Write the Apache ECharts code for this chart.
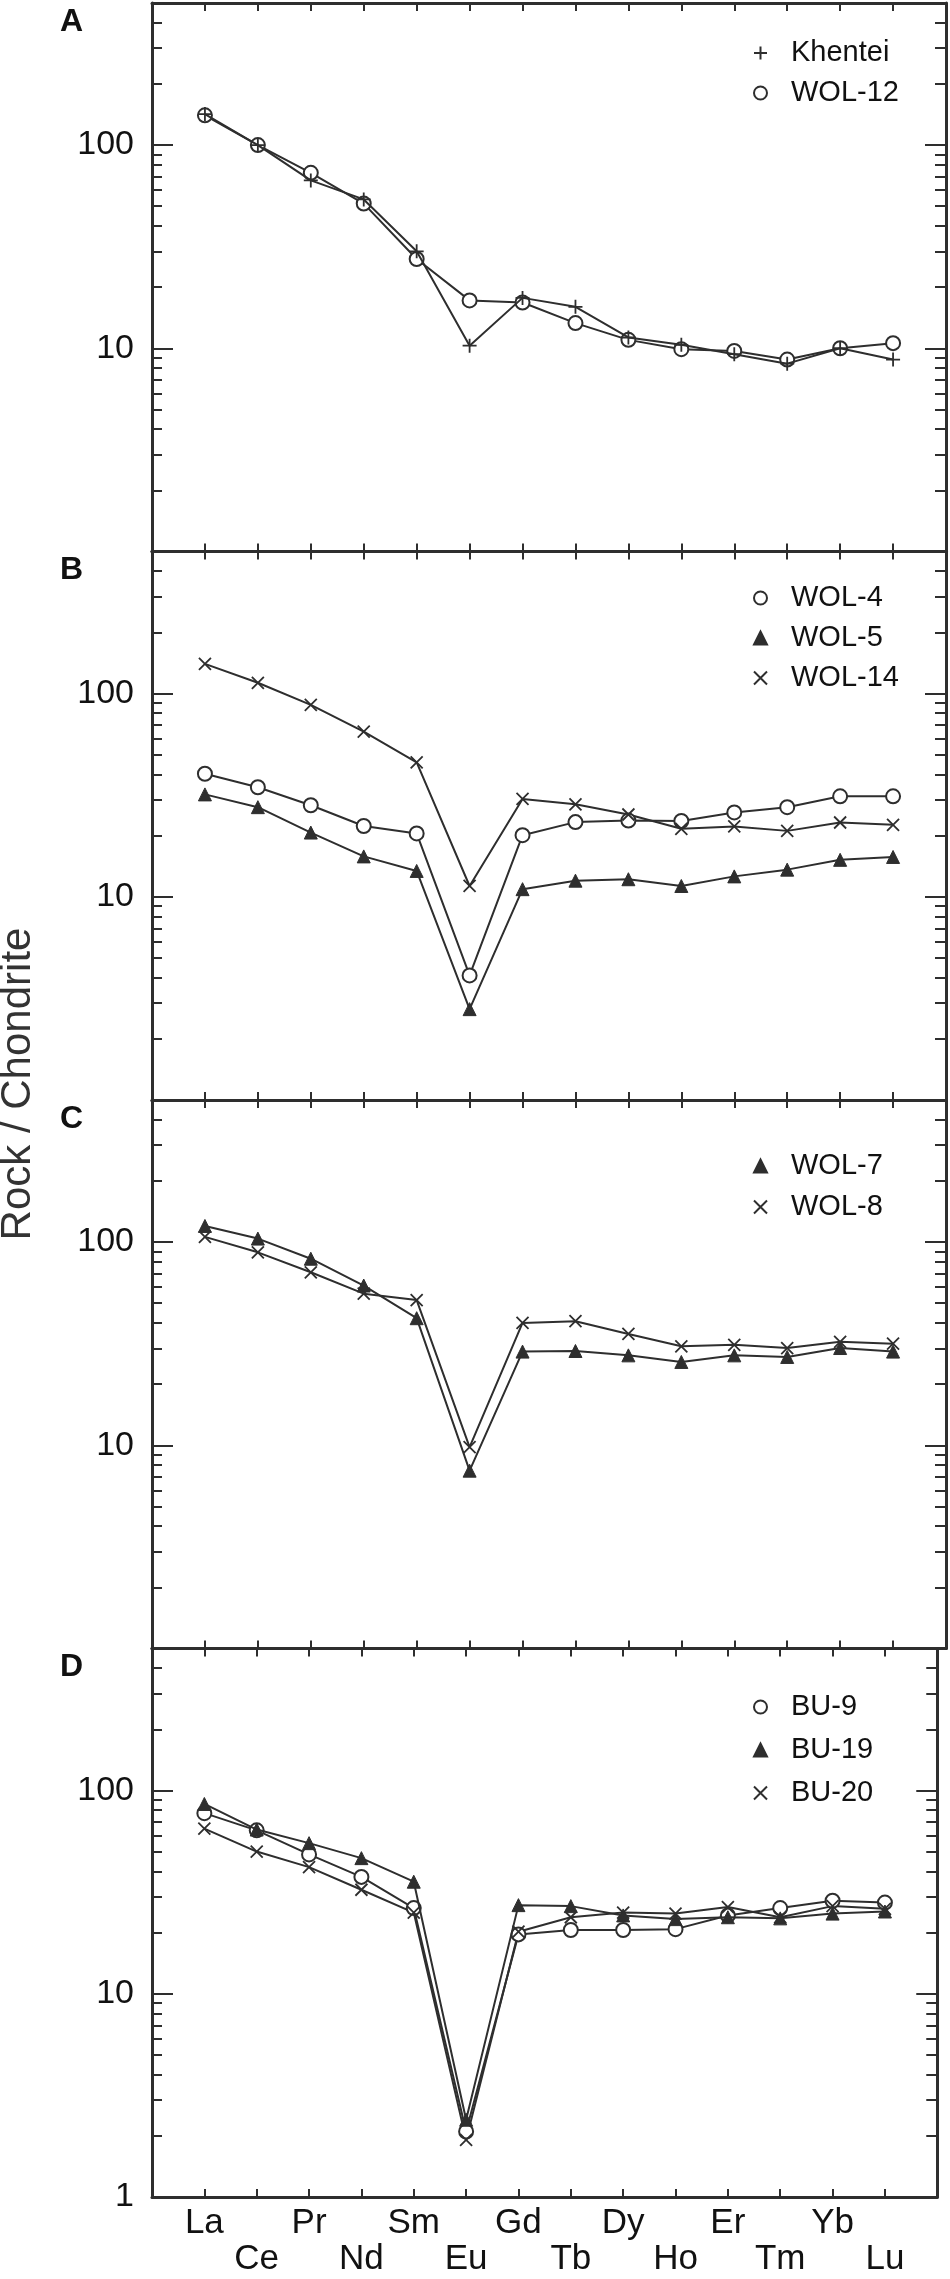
<!DOCTYPE html>
<html>
<head>
<meta charset="utf-8">
<script src="https://cdn.jsdelivr.net/npm/echarts@6/dist/echarts.min.js"></script>
<style>
html,body{margin:0;padding:0;background:#fff;}
#chart{width:950px;height:2279px;}
</style>
</head>
<body>
<div id="chart"></div>
<script>
// ---- data ----
const elements = ['La','Ce','Pr','Nd','Sm','Eu','Gd','Tb','Dy','Ho','Er','Tm','Yb','Lu'];

// Panel A
const khentei = [142, 100, 67, 54, 30, 10.3, 17.7, 16.0, 11.3, 10.4, 9.35, 8.4, 10.0, 8.8];
const wol12   = [140, 100, 73, 51.5, 27.5, 17.2, 16.8, 13.3, 11.0, 9.9, 9.7, 8.8, 10.0, 10.6];
// Panel B
const wol4  = [40.3, 34.6, 28.2, 22.3, 20.5, 4.1, 20.1, 23.3, 23.7, 23.6, 26.0, 27.6, 31.2, 31.2];
const wol5  = [31.9, 27.6, 20.7, 15.8, 13.4, 2.8, 10.9, 12.0, 12.2, 11.3, 12.6, 13.6, 15.2, 15.7];
const wol14 = [140, 113, 88, 65, 45.8, 11.3, 30.3, 28.5, 25.4, 21.6, 22.2, 21.1, 23.2, 22.6];
// Panel C
const wol7 = [120, 104, 82.8, 61.1, 42.2, 7.5, 28.9, 29.1, 27.7, 25.7, 27.7, 27.2, 30.1, 28.9];
const wol8 = [106, 89, 71, 55.7, 51.8, 9.8, 40, 40.8, 35.3, 30.7, 31.2, 30.1, 32.3, 31.6];
// Panel D
const bu9  = [77.4, 63.7, 48.5, 37.6, 26.4, 2.1, 19.6, 20.6, 20.6, 20.8, 24.3, 26.4, 28.7, 28.1];
const bu19 = [85.9, 64.3, 55.1, 46.5, 35.6, 2.4, 27.3, 27.0, 24.3, 23.3, 23.8, 23.5, 24.8, 25.4];
const bu20 = [65, 50.1, 42, 32.5, 25.1, 1.91, 20.2, 23.8, 25.1, 24.8, 26.7, 23.8, 27, 26.2];

// axis ticks / labels
const yMin = 1, yMax = 500;
const majorTicks = [1, 10, 100];
const minorTicks = [2,3,4,5,6,7,8,9,20,30,40,50,60,70,80,90,200,300,400];
const yLabelsUpper = [10, 100];
const yLabelsBottom = [1, 10, 100];

// ---- styling ----
const FONT = '"Liberation Sans", Arial, Helvetica, sans-serif';
const INK = '#2e2e2e';
const PLUS = 'path://M5,0L5,10M0,5L10,5';
const CROSS = 'path://M0,0L10,10M10,0L0,10';

const marker = {
  plus:   {symbol: PLUS,  size: 14, itemStyle: {color: INK, borderColor: INK, borderWidth: 1.8}},
  circle: {symbol: 'circle', size: 14, itemStyle: {color: '#fff', borderColor: INK, borderWidth: 2}},
  tri:    {symbol: 'triangle', size: 13, itemStyle: {color: INK, borderColor: INK, borderWidth: 1}},
  cross:  {symbol: CROSS, size: 12, itemStyle: {color: INK, borderColor: INK, borderWidth: 1.8}}
};

const panels = [
  {letter: 'A', series: [['Khentei', khentei, 'plus', 4], ['WOL-12', wol12, 'circle', 3]], legendRow: 53, legendStep: 40, yLabels: yLabelsUpper},
  {letter: 'B', series: [['WOL-4', wol4, 'circle', 3], ['WOL-5', wol5, 'tri', 3], ['WOL-14', wol14, 'cross', 3]], legendRow: 598, legendStep: 40, yLabels: yLabelsUpper},
  {letter: 'C', series: [['WOL-7', wol7, 'tri', 3], ['WOL-8', wol8, 'cross', 4]], legendRow: 1166, legendStep: 41, yLabels: yLabelsUpper},
  {letter: 'D', series: [['BU-9', bu9, 'circle', 3], ['BU-19', bu19, 'tri', 4], ['BU-20', bu20, 'cross', 3]], legendRow: 1707, legendStep: 43, yLabels: yLabelsBottom}
];

const plotTop = 3, panelH = 548.5, gridLeft = 152, gridRight = 4;
const cats = [' '].concat(elements).concat(['  ']);

const grid = [], xAxis = [], yAxis = [], series = [], legend = [], graphic = [];

panels.forEach((p, i) => {
  const top = plotTop + i * panelH;
  grid.push({left: gridLeft, right: gridRight, top: top, height: panelH});
  const isLast = i === panels.length - 1;
  const lineStyle = {color: INK, width: 3};
  // bottom x axis
  xAxis.push({
    type: 'category', gridIndex: i, data: cats, boundaryGap: false, position: 'bottom',
    axisLine: {show: true, onZero: false, lineStyle: lineStyle},
    axisTick: {show: true, inside: true, length: 8, lineStyle: {color: INK, width: 2}, interval: 0},
    axisLabel: {
      show: isLast, interval: 0, margin: 8, fontSize: 35, lineHeight: 36, color: '#111', fontFamily: FONT,
      formatter: (v, idx) => (idx % 2 === 1 ? v : '\n' + v)
    },
    splitLine: {show: false}
  });
  // top x axis
  xAxis.push({
    type: 'category', gridIndex: i, data: cats, boundaryGap: false, position: 'top',
    axisLine: {show: true, onZero: false, lineStyle: lineStyle},
    axisTick: {show: true, inside: true, length: 8, lineStyle: {color: INK, width: 2}, interval: 0},
    axisLabel: {show: false}, splitLine: {show: false}
  });
  const baseY = {type: 'log', logBase: 10, min: yMin, max: yMax, gridIndex: i, splitLine: {show: false}};
  // left major (data axis)
  yAxis.push(Object.assign({}, baseY, {
    position: 'left',
    axisLine: {show: true, lineStyle: lineStyle},
    axisTick: {show: true, inside: true, length: 21, customValues: majorTicks, lineStyle: {color: INK, width: 2}},
    axisLabel: {show: true, customValues: p.yLabels, margin: 18, fontSize: 34, color: '#111', fontFamily: FONT}
  }));
  // left minor
  yAxis.push(Object.assign({}, baseY, {
    position: 'left',
    axisLine: {show: false},
    axisTick: {show: true, inside: true, length: 10, customValues: minorTicks, lineStyle: {color: INK, width: 2}},
    axisLabel: {show: false}
  }));
  // right major
  yAxis.push(Object.assign({}, baseY, {
    position: 'right',
    axisLine: {show: true, lineStyle: lineStyle},
    axisTick: {show: true, inside: true, length: 21, customValues: majorTicks, lineStyle: {color: INK, width: 2}},
    axisLabel: {show: false}
  }));
  // right minor
  yAxis.push(Object.assign({}, baseY, {
    position: 'right',
    axisLine: {show: false},
    axisTick: {show: true, inside: true, length: 11, customValues: minorTicks, lineStyle: {color: INK, width: 2}},
    axisLabel: {show: false}
  }));

  const legendData = [];
  p.series.forEach(([name, vals, mk, z]) => {
    const m = marker[mk];
    series.push({
      name: name, type: 'line', xAxisIndex: 2 * i, yAxisIndex: 4 * i, z: z,
      data: elements.map((el, k) => [el, vals[k]]),
      symbol: m.symbol, symbolSize: m.size, showSymbol: true,
      itemStyle: m.itemStyle,
      lineStyle: {color: INK, width: 2},
      emphasis: {disabled: true}
    });
    legendData.push({name: name, icon: m.symbol});
  });
  legend.push({
    data: legendData, orient: 'vertical', left: 753, top: p.legendRow - 15, padding: 0,
    itemWidth: 13, itemHeight: 13, itemGap: p.legendStep - 30,
    symbolKeepAspect: true,
    selectedMode: false,
    lineStyle: {width: 0, opacity: 0},
    textStyle: {fontSize: 29, lineHeight: 30, color: '#111', fontFamily: FONT, padding: [0, 0, 0, 19]}
  });
  graphic.push({
    type: 'text', left: 60, top: top + 19 - 16,
    style: {text: p.letter, font: 'bold 32px ' + FONT, fill: '#111'}
  });
});

graphic.push({
  type: 'text', x: 18, y: 1084, rotation: Math.PI / 2,
  style: {text: 'Rock / Chondrite', font: '42px ' + FONT, fill: '#333', textAlign: 'center', textVerticalAlign: 'middle'}
});

const chart = echarts.init(document.getElementById('chart'), null, {renderer: 'canvas'});
chart.setOption({
  animation: false,
  backgroundColor: '#fff',
  grid: grid, xAxis: xAxis, yAxis: yAxis, series: series, legend: legend, graphic: graphic
});
</script>
</body>
</html>
